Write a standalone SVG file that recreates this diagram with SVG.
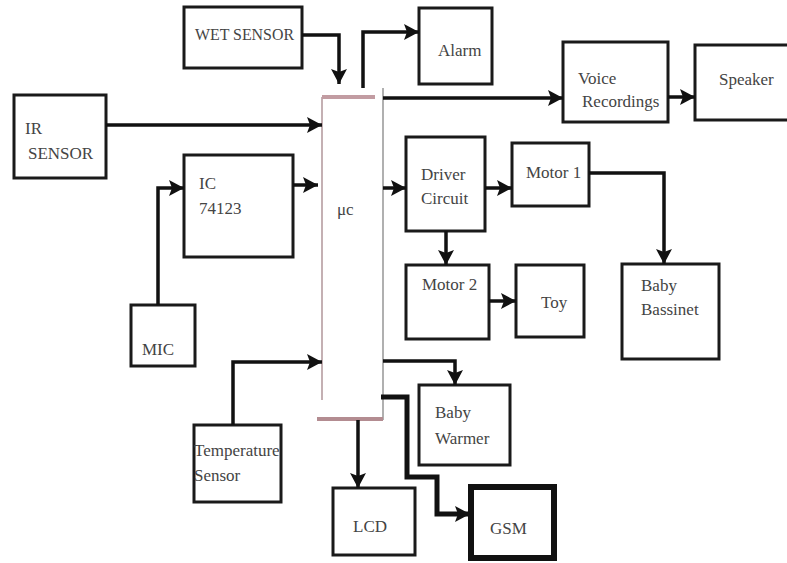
<svg xmlns="http://www.w3.org/2000/svg" width="787" height="563" viewBox="0 0 787 563">
<defs>
<marker id="ah" markerUnits="userSpaceOnUse" markerWidth="18" markerHeight="18" refX="15" refY="8" orient="auto">
<path d="M0,0 L15,8 L0,16 L3,8 z" fill="#111"/>
</marker>
<style>
.box{fill:#fff;stroke:#1a1a1a;stroke-width:3}
.thick{fill:#fff;stroke:#111;stroke-width:6}
text{font-family:'Liberation Serif','Times New Roman','DejaVu Serif',serif;font-size:17px;fill:#444}
.c{fill:none;stroke:#111;stroke-width:3.5;marker-end:url(#ah)}
</style>
</defs>
<rect width="787" height="563" fill="#fff"/>
<g id="uc">
<line x1="322" y1="97" x2="322" y2="400" stroke="#c4b0b3" stroke-width="2"/>
<line x1="383" y1="88" x2="383" y2="420" stroke="#b0b0b0" stroke-width="2"/>
<line x1="322" y1="97" x2="375" y2="97" stroke="#c29ca2" stroke-width="4"/>
<line x1="317" y1="419" x2="383" y2="419" stroke="#b38c91" stroke-width="4"/>
<text x="337" y="215">μc</text>
</g>
<g id="wet"><rect class="box" x="184" y="7" width="118" height="61"/><text x="195" y="40" textLength="99" lengthAdjust="spacingAndGlyphs">WET SENSOR</text></g>
<g id="alarm"><rect class="box" x="419" y="8" width="73" height="76"/><text x="438" y="56">Alarm</text></g>
<g id="ir"><rect class="box" x="14" y="95" width="92" height="83"/><text x="25" y="134">IR</text><text x="28" y="159">SENSOR</text></g>
<g id="voice"><rect class="box" x="563" y="42" width="105" height="80"/><text x="578" y="84">Voice</text><text x="582" y="107">Recordings</text></g>
<g id="speaker"><rect class="box" x="695" y="45" width="100" height="75"/><text x="719" y="85">Speaker</text></g>
<g id="ic"><rect class="box" x="184" y="155" width="109" height="102"/><text x="199" y="189">IC</text><text x="199" y="214">74123</text></g>
<g id="mic"><rect class="box" x="131" y="305" width="64" height="61"/><text x="142" y="355">MIC</text></g>
<g id="driver"><rect class="box" x="406" y="137" width="79" height="94"/><text x="421" y="180">Driver</text><text x="421" y="204">Circuit</text></g>
<g id="motor1"><rect class="box" x="512" y="143" width="77" height="63"/><text x="526" y="178">Motor 1</text></g>
<g id="bassinet"><rect class="box" x="622" y="264" width="97" height="95"/><text x="641" y="291">Baby</text><text x="641" y="315">Bassinet</text></g>
<g id="motor2"><rect class="box" x="406" y="265" width="83" height="74"/><text x="422" y="290">Motor 2</text></g>
<g id="toy"><rect class="box" x="516" y="265" width="68" height="72"/><text x="541" y="308">Toy</text></g>
<g id="warmer"><rect class="box" x="419" y="385" width="91" height="80"/><text x="435" y="418">Baby</text><text x="435" y="444">Warmer</text></g>
<g id="temp"><rect class="box" x="194" y="425" width="87" height="77"/><text x="194" y="456">Temperature</text><text x="194" y="481">Sensor</text></g>
<g id="lcd"><rect class="box" x="333" y="488" width="82" height="67"/><text x="353" y="532">LCD</text></g>
<g id="gsm"><rect class="thick" x="471" y="487" width="83" height="71"/><text x="490" y="534">GSM</text></g>
<g id="connectors">
<path class="c" d="M302,35 H339 V84"/>
<path class="c" d="M363,88 V32 H419"/>
<path class="c" d="M106,125 H322"/>
<path class="c" d="M383,98 H563"/>
<path class="c" d="M668,97 H695"/>
<path class="c" d="M293,185 H318"/>
<path class="c" d="M158,305 V188 H184"/>
<path class="c" d="M383,188 H406"/>
<path class="c" d="M485,188 H512"/>
<path class="c" d="M589,173 H664 V264"/>
<path class="c" d="M446,231 V265"/>
<path class="c" d="M489,301 H516"/>
<path class="c" d="M383,361 H455 V385"/>
<path class="c" d="M233,425 V362 H322"/>
<path class="c" d="M358,420 V488"/>
<path class="c" d="M381,397 H407 V477 H437 V514 H470" style="stroke-width:5"/>
</g>
</svg>
